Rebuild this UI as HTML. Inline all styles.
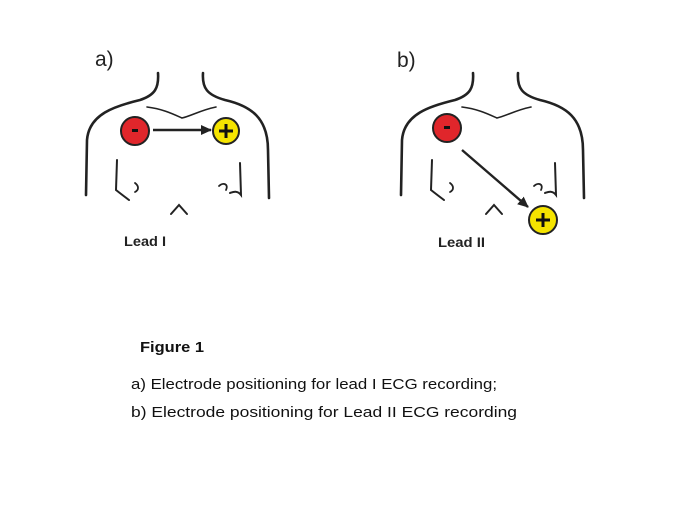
<!DOCTYPE html>
<html><head><style>
body{margin:0;background:#fff;width:696px;height:516px;overflow:hidden;font-family:"Liberation Sans",sans-serif}
</style></head><body>
<svg width="696" height="516" viewBox="0 0 696 516" xmlns="http://www.w3.org/2000/svg">
<defs>
<g id="torso" fill="none" stroke="#222" stroke-width="2.6" stroke-linecap="round">
<path d="M473,73 C474,88 470,95 455,100 C430,106 404,114 402,140 L401,195"/>
<path d="M518,73 C517,88 522,95 540,100 C566,106 583,118 583,150 L584,198"/>
<path d="M462,107 C478,109 488,114 497,118 C506,116 516,110 531,107" stroke-width="1.6"/>
<path d="M432,160 L431,190 C436,194 440,197 444,200" stroke-width="2"/>
<path d="M555,163 L556,195 C552,190 548,192 545,193" stroke-width="2"/>
<path d="M450,183 C454,186 454,190 450,192" stroke-width="1.8"/>
<path d="M534,186 C538,182 544,184 541,190" stroke-width="1.8"/>
<path d="M486,214 L494,205 L502,214" stroke-width="2"/>
</g>
<marker id="ah" markerWidth="11" markerHeight="10" refX="10" refY="5" orient="auto" markerUnits="userSpaceOnUse"><path d="M0,0 L11,5 L0,10 z" fill="#222"/></marker>
</defs>
<text x="95" y="66" font-size="21" fill="#222">a)</text>
<text x="397" y="67" font-size="21" fill="#222">b)</text>
<use href="#torso" transform="translate(-315,0)"/>
<use href="#torso"/>
<line x1="153" y1="130" x2="211" y2="130" stroke="#222" stroke-width="2.4" marker-end="url(#ah)"/>
<circle cx="135" cy="131" r="14" fill="#e0262b" stroke="#222" stroke-width="2"/>
<rect x="132" y="129" width="6" height="3" fill="#111"/>
<circle cx="226" cy="131" r="13" fill="#f5e400" stroke="#222" stroke-width="2"/>
<path d="M226,124 V138 M219,131 H233" stroke="#111" stroke-width="3"/>
<text x="124" y="246" font-size="14" font-weight="bold" fill="#222" textLength="42" lengthAdjust="spacingAndGlyphs">Lead I</text>
<line x1="462" y1="150" x2="528" y2="207" stroke="#222" stroke-width="2.4" marker-end="url(#ah)"/>
<circle cx="447" cy="128" r="14" fill="#e0262b" stroke="#222" stroke-width="2"/>
<rect x="444" y="126" width="6" height="3" fill="#111"/>
<circle cx="543" cy="220" r="14" fill="#f5e400" stroke="#222" stroke-width="2"/>
<path d="M543,213 V227 M536,220 H550" stroke="#111" stroke-width="3"/>
<text x="438" y="247" font-size="14" font-weight="bold" fill="#222" textLength="47" lengthAdjust="spacingAndGlyphs">Lead II</text>
<text x="140" y="352" font-size="15" font-weight="bold" fill="#111" textLength="64" lengthAdjust="spacingAndGlyphs">Figure 1</text>
<text x="131" y="389" font-size="15" fill="#111" textLength="366" lengthAdjust="spacingAndGlyphs">a) Electrode positioning for lead I ECG recording;</text>
<text x="131" y="417" font-size="15" fill="#111" textLength="386" lengthAdjust="spacingAndGlyphs">b) Electrode positioning for Lead II ECG recording</text>
</svg>
</body></html>
